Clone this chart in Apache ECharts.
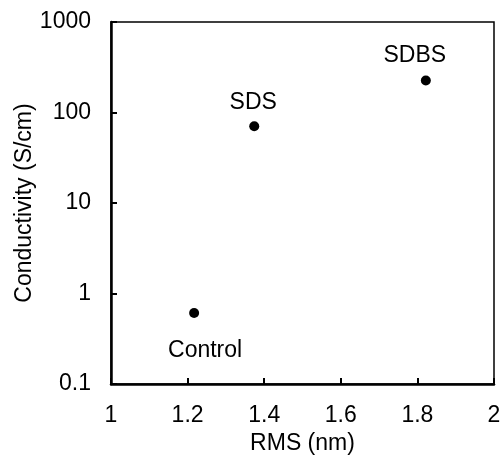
<!DOCTYPE html>
<html>
<head>
<meta charset="utf-8">
<script src="https://cdn.jsdelivr.net/npm/echarts@6/dist/echarts.min.js"></script>
<style>html,body{margin:0;padding:0;background:#fff}#c{width:503px;height:455px}</style>
</head>
<body>
<div id="c"></div>
<script>
var sampleNames = ['Control', 'SDS', 'SDBS'];
var rmsValues = [1.217, 1.374, 1.822];
var conductivityValues = [0.61, 70.5, 226];
var labelOffsets = [[11, 38], [-1, -24], [-11, -25]];

var FONT = '"Liberation Sans", Arial, sans-serif';
var chart = echarts.init(document.getElementById('c'), null, {renderer: 'canvas'});
var data = sampleNames.map(function (n, i) {
  return {
    name: n,
    value: [rmsValues[i], conductivityValues[i]],
    label: {
      position: [5 + labelOffsets[i][0], 5 + labelOffsets[i][1]]
    }
  };
});
chart.setOption({
  animation: false,
  backgroundColor: '#fff',
  grid: {left: 111, right: 9, top: 22, bottom: 71, containLabel: false, outerBoundsMode: 'none',
    show: true, borderColor: '#000', borderWidth: 1.5, backgroundColor: 'transparent'},
  xAxis: {
    type: 'value', min: 1, max: 2, interval: 0.2,
    name: 'RMS (nm)', nameLocation: 'middle', nameGap: 60, nameMoveOverlap: false,
    nameTextStyle: {color: '#000', fontFamily: FONT, fontSize: 23, verticalAlign: 'middle'},
    axisLine: {show: true, lineStyle: {color: '#000', width: 2.5}},
    axisTick: {show: true, inside: true, length: 6, lineStyle: {color: '#000', width: 2}},
    axisLabel: {color: '#000', fontFamily: FONT, fontSize: 23, margin: 20},
    splitLine: {show: false}
  },
  yAxis: {
    type: 'log', logBase: 10, min: 0.1, max: 1000,
    name: 'Conductivity (S/cm)', nameLocation: 'middle', nameGap: 86, nameRotate: 90, nameMoveOverlap: false,
    nameTextStyle: {color: '#000', fontFamily: FONT, fontSize: 23, verticalAlign: 'middle', align: 'center'},
    axisLine: {show: true, lineStyle: {color: '#000', width: 2.5}},
    axisTick: {show: true, inside: true, length: 6, lineStyle: {color: '#000', width: 2}},
    axisLabel: {color: '#000', fontFamily: FONT, fontSize: 23, margin: 20,
      formatter: function (v) { return String(+v.toPrecision(6)); }},
    splitLine: {show: false},
    minorTick: {show: false}
  },
  series: [{
    type: 'scatter',
    symbol: 'circle',
    symbolSize: 10,
    itemStyle: {color: '#000', opacity: 1},
    label: {
      show: true,
      formatter: '{b}',
      align: 'center',
      verticalAlign: 'middle',
      color: '#000',
      opacity: 1,
      textBorderWidth: 0,
      fontFamily: FONT,
      fontSize: 23
    },
    data: data
  }]
});
</script>
</body>
</html>
